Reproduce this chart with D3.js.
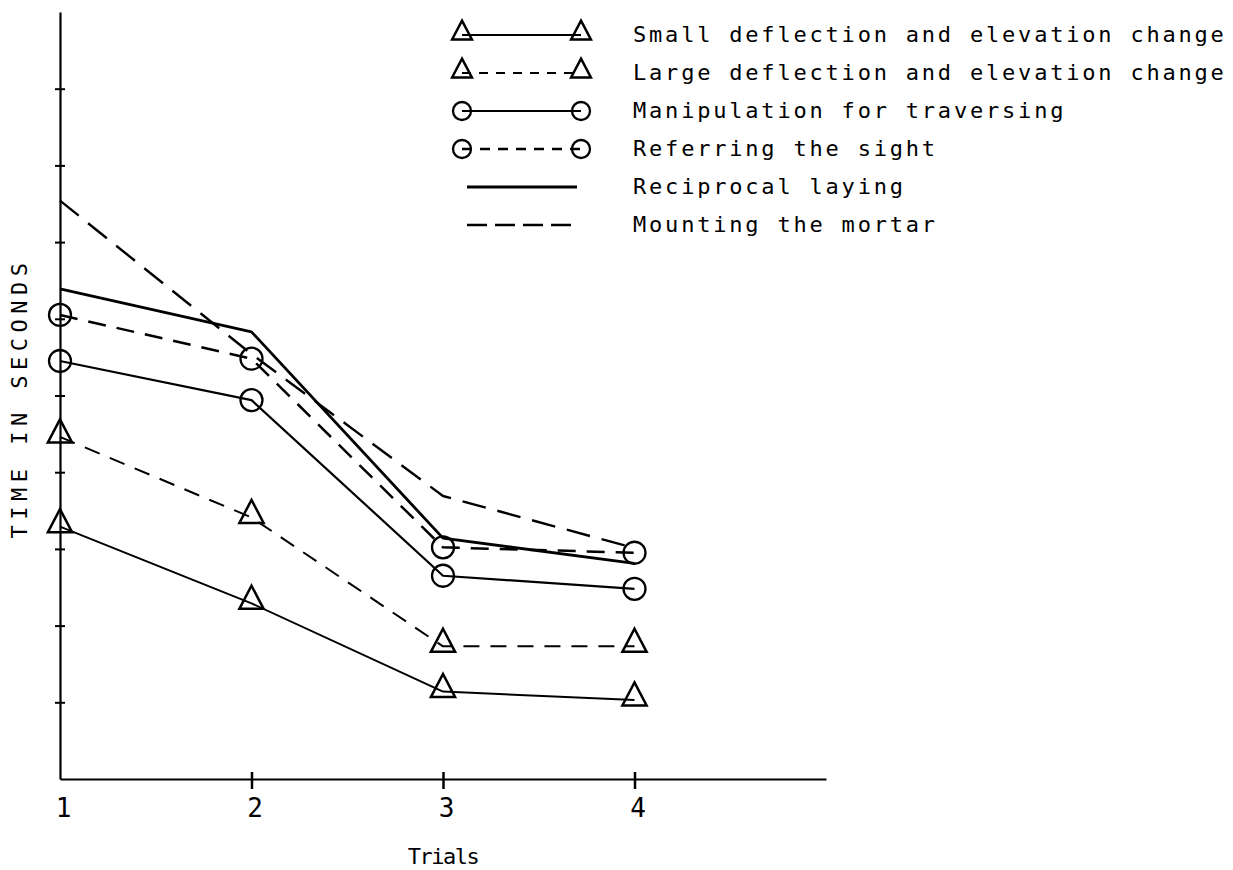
<!DOCTYPE html>
<html>
<head>
<meta charset="utf-8">
<script src="https://cdn.jsdelivr.net/npm/d3@7"></script>
<style>
  body { margin: 0; background: #fff; }
  svg { display: block; }
  text { font-family: "DejaVu Sans Mono", "Liberation Mono", monospace; fill: #000; }
</style>
</head>
<body>
<div id="svg_area"></div>
<script>
// values (y in grid units, no labels on that axis)
var trials = [1, 2, 3, 4];
var xTickLabels = ["1", "2", "3", "4"];
var yTicks = [1, 2, 3, 4, 5, 6, 7, 8, 9];

var smallDeflection = [3.29, 2.29, 1.14, 1.03];
var largeDeflection = [4.46, 3.41, 1.73, 1.73];
var manipulation = [5.45, 4.94, 2.65, 2.48];
var referring = [6.05, 5.48, 3.02, 2.95];
var reciprocal = [6.39, 5.83, 3.14, 2.81];
var mounting = [7.54, 5.54, 3.69, 3.01];

var seriesNames = [
  "Small deflection and elevation change",
  "Large deflection and elevation change",
  "Manipulation for traversing",
  "Referring the sight",
  "Reciprocal laying",
  "Mounting the mortar"
];

var series = [
  {name: seriesNames[0], values: smallDeflection, marker: "triangle", dash: null, width: 2, legendDash: null},
  {name: seriesNames[1], values: largeDeflection, marker: "triangle", dash: "16,11", width: 2, legendDash: "9,8"},
  {name: seriesNames[2], values: manipulation, marker: "circle", dash: null, width: 2.2, legendDash: null},
  {name: seriesNames[3], values: referring, marker: "circle", dash: "18,11", width: 2.5, legendDash: "10,8"},
  {name: seriesNames[4], values: reciprocal, marker: null, dash: null, width: 2.8, legendDash: null},
  {name: seriesNames[5], values: mounting, marker: null, dash: "24,12", width: 2.4, legendDash: "20,8"}
];

d3.select('#svg_area').append("svg").attr("width", 1233).attr("height", 870);
var svg = d3.select("svg");

var x = d3.scaleLinear().domain([1, 5]).range([60, 826]);
var y = d3.scaleLinear().domain([0, 10]).range([779, 12]);

// y axis: small crossing ticks, no labels
var yAxis = svg.append("g")
  .attr("transform", "translate(" + x(1) + ",0)")
  .call(d3.axisLeft(y).tickValues(yTicks).tickSizeOuter(0).tickFormat(""));
yAxis.select(".domain").attr("stroke-width", 2.2);
yAxis.selectAll(".tick line").attr("x1", -5).attr("x2", 5).attr("stroke-width", 2);

// x axis
var xAxis = svg.append("g")
  .attr("transform", "translate(0," + y(0) + ")")
  .call(d3.axisBottom(x).tickValues(trials).tickSizeOuter(0)
    .tickFormat(function(d, i) { return xTickLabels[i]; }));
xAxis.select(".domain").attr("stroke-width", 2.2);
xAxis.selectAll(".tick line")
  .attr("y1", -7).attr("y2", 10).attr("stroke-width", 2.5)
  .style("display", function(d) { return d === 1 ? "none" : null; });
xAxis.selectAll(".tick text")
  .attr("y", 20)
  .attr("dx", 3)
  .attr("font-size", 26)
  .attr("font-family", "'DejaVu Sans Mono', monospace");

svg.append("text")
  .attr("x", x(3))
  .attr("y", 864)
  .attr("text-anchor", "middle")
  .attr("font-size", 22)
  .attr("letter-spacing", -1.5)
  .text("Trials");

svg.append("text")
  .attr("transform", "translate(27," + 398 + ") rotate(-90)")
  .attr("text-anchor", "middle")
  .attr("font-size", 22)
  .attr("letter-spacing", 5.5)
  .text("TIME IN SECONDS");

var line = d3.line()
  .x(function(d, i) { return x(trials[i]); })
  .y(function(d) { return y(d); });

function triPath(s) {
  // apex up, data point sits near the base
  return "M0," + (-s * 0.8) + "L" + (s * 0.55) + "," + (s * 0.25) + "L" + (-s * 0.55) + "," + (s * 0.25) + "Z";
}

function drawMarker(g, type, cx, cy, s) {
  if (type === "triangle") {
    g.append("path")
      .attr("d", triPath(s))
      .attr("transform", "translate(" + cx + "," + cy + ")")
      .attr("fill", "none")
      .attr("stroke", "#000")
      .attr("stroke-width", 2.5)
      .attr("stroke-linejoin", "miter");
  } else if (type === "circle") {
    g.append("circle")
      .attr("cx", cx)
      .attr("cy", cy)
      .attr("r", s * 0.5)
      .attr("fill", "none")
      .attr("stroke", "#000")
      .attr("stroke-width", 2.3);
  }
}

var plot = svg.append("g");

series.forEach(function(s) {
  plot.append("path")
    .datum(s.values)
    .attr("fill", "none")
    .attr("stroke", "#000")
    .attr("stroke-width", s.width)
    .attr("stroke-dasharray", s.dash)
    .attr("stroke-linejoin", "round")
    .attr("d", line);

  s.values.forEach(function(v, i) {
    drawMarker(plot, s.marker, x(trials[i]), y(v), 22);
  });
});

// legend
var legend = svg.append("g");
series.forEach(function(s, i) {
  var ly = 35 + i * 38;
  var x0 = s.marker ? 462 : 467;
  var x1 = s.marker ? 581 : 577;
  legend.append("line")
    .attr("x1", x0).attr("x2", x1)
    .attr("y1", ly).attr("y2", ly)
    .attr("stroke", "#000")
    .attr("stroke-width", s.width)
    .attr("stroke-dasharray", s.legendDash);
  drawMarker(legend, s.marker, x0, ly, 18);
  drawMarker(legend, s.marker, x1, ly, 18);

  legend.append("text")
    .attr("x", 633)
    .attr("y", ly + 7)
    .attr("font-size", 22)
    .attr("letter-spacing", 2.8)
    .text(s.name);
});
</script>
</body>
</html>
